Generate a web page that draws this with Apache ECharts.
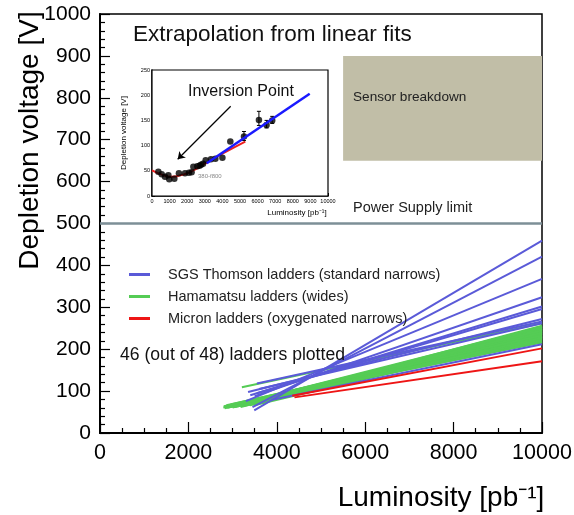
<!DOCTYPE html>
<html>
<head>
<meta charset="utf-8">
<script src="https://cdn.jsdelivr.net/npm/echarts@6/dist/echarts.min.js"></script>
<style>
html,body{margin:0;padding:0;background:#fff;}
#chart{width:574px;height:515px;}
</style>
</head>
<body>
<div id="chart"></div>
<script>
// ---------- Main plot data ----------
const blueName = 'SGS Thomson ladders (standard narrows)';
const greenName = 'Hamamatsu ladders (wides)';
const redName = 'Micron ladders (oxygenated narrows)';
const fitEndL = 10000;

const blueStartL = [3490, 3450, 3300, 3500, 3400, 3550, 3350, 3550, 3600, 3870];
const blueStartV = [54, 62, 76, 88, 90, 95, 98, 118, 105, 79];
const blueEndV   = [459, 421, 368, 324, 302, 296, 272, 266, 262, 212];

const greenStartL = [2790, 2820, 2850, 2880, 2910, 2940, 2970, 3000, 3030, 3060,
                     3090, 3120, 3150, 3180, 3210, 3240, 3270, 3300, 3330, 3360,
                     3390, 3420, 3450, 3480, 3510, 3540, 2800, 2860, 2960, 3050,
                     3160, 3260, 3380, 3210];
const greenStartV = [61, 59, 63, 60, 64, 62, 66, 61, 65, 63,
                     67, 64, 68, 62, 66, 70, 65, 69, 67, 71,
                     66, 70, 68, 72, 67, 70, 64, 66, 68, 62,
                     70, 72, 74, 109];
const greenEndV   = [218, 225, 221, 232, 228, 240, 236, 244, 230, 248,
                     238, 252, 234, 242, 226, 250, 246, 223, 254, 237,
                     231, 247, 241, 256, 229, 243, 216, 233, 239, 227,
                     249, 253, 245, 262];

const redStartL = [4350, 4400];
const redStartV = [89, 85];
const redEndV   = [202, 171];

const psLimitV = 500;
const breakdownL = [5500, 10000];
const breakdownV = [650, 900];

// ---------- Inset data ----------
const insetL = [360, 550, 740, 930, 980, 1270, 1530, 1875, 2100, 2250, 2350, 2575, 2700, 2785, 2900, 3050, 3350, 3600, 4000, 4450, 5226, 6075, 6509, 6830];
const insetV = [48, 43, 38, 41, 33, 34, 45, 45, 46, 47, 58, 59, 60, 62, 64, 71, 73, 74, 76, 108, 118, 151, 141, 150];
const errL  = [5226, 6075, 6509, 6830];
const errLo = [110, 140, 135, 144];
const errHi = [128, 168, 150, 158];
const redFitL = [0, 600, 1100, 1600, 2200, 3000, 4000, 5300];
const redFitV = [51, 42, 38, 41, 48, 64, 84, 108];
const blueFitL = [3110, 8960];
const blueFitV = [65, 203];
const arrowFrom = [4470, 178];
const arrowTo = [1460, 73];

const FONT = "'Liberation Sans', Arial, Helvetica, sans-serif";
const BLUE = '#5a5ad8';
const GREEN = '#55cc55';
const RED = '#ee1515';
const plain = v => String(v);

const series = [];
// reference line + breakdown box
series.push({
  type: 'line', xAxisIndex: 0, yAxisIndex: 0, silent: true,
  data: [[0, psLimitV], [fitEndL, psLimitV]],
  symbol: 'none', lineStyle: {color: '#7d8f97', width: 2.5}, z: 1,
  markArea: {
    silent: true,
    itemStyle: {color: '#c1bea7'},
    data: [[{coord: [breakdownL[0], breakdownV[1]]}, {coord: [breakdownL[1], breakdownV[0]]}]]
  }
});
greenStartL.forEach((l, i) => series.push({
  name: greenName, type: 'line', xAxisIndex: 0, yAxisIndex: 0,
  data: [[l, greenStartV[i]], [fitEndL, greenEndV[i]]],
  symbol: 'none', lineStyle: {color: GREEN, width: 2}, itemStyle: {color: GREEN}, z: 2
}));
blueStartL.forEach((l, i) => series.push({
  name: blueName, type: 'line', xAxisIndex: 0, yAxisIndex: 0,
  data: [[l, blueStartV[i]], [fitEndL, blueEndV[i]]],
  symbol: 'none', lineStyle: {color: BLUE, width: 2}, itemStyle: {color: BLUE}, z: 3
}));
redStartL.forEach((l, i) => series.push({
  name: redName, type: 'line', xAxisIndex: 0, yAxisIndex: 0,
  data: [[l, redStartV[i]], [fitEndL, redEndV[i]]],
  symbol: 'none', lineStyle: {color: RED, width: 2}, itemStyle: {color: RED}, z: 4
}));

// inset series
series.push({
  type: 'line', xAxisIndex: 1, yAxisIndex: 1, silent: true,
  data: redFitL.map((l, i) => [l, redFitV[i]]), smooth: true,
  symbol: 'none', lineStyle: {color: '#ee2020', width: 2}, z: 5,
  markLine: {
    silent: true, symbol: ['none', 'arrow'], symbolSize: 7,
    lineStyle: {color: '#000', width: 1.2, type: 'solid'}, label: {show: false},
    data: [[{coord: arrowFrom}, {coord: arrowTo}]]
  }
});
series.push({
  type: 'custom', xAxisIndex: 1, yAxisIndex: 1, silent: true, z: 6,
  data: errL.map((l, i) => [l, errLo[i], errHi[i]]),
  renderItem: function (params, api) {
    const lo = api.coord([api.value(0), api.value(1)]);
    const hi = api.coord([api.value(0), api.value(2)]);
    return {type: 'group', children: [
      {type: 'line', shape: {x1: lo[0], y1: lo[1], x2: hi[0], y2: hi[1]}, style: {stroke: '#000', lineWidth: 1}},
      {type: 'line', shape: {x1: hi[0] - 2, y1: hi[1], x2: hi[0] + 2, y2: hi[1]}, style: {stroke: '#000', lineWidth: 1}},
      {type: 'line', shape: {x1: lo[0] - 2, y1: lo[1], x2: lo[0] + 2, y2: lo[1]}, style: {stroke: '#000', lineWidth: 1}}
    ]};
  }
});
series.push({
  type: 'scatter', xAxisIndex: 1, yAxisIndex: 1, silent: true,
  data: insetL.map((l, i) => [l, insetV[i]]),
  symbol: 'circle', symbolSize: 6.5, itemStyle: {color: '#000'}, z: 7
});
series.push({
  type: 'line', xAxisIndex: 1, yAxisIndex: 1, silent: true,
  data: blueFitL.map((l, i) => [l, blueFitV[i]]),
  symbol: 'none', lineStyle: {color: '#1a1aff', width: 2.5}, z: 8
});

const option = {
  animation: false,
  backgroundColor: '#fff',
  textStyle: {fontFamily: FONT},
  legend: {
    orient: 'vertical', left: 124, top: 262,
    data: [blueName, greenName, redName],
    icon: 'rect', itemWidth: 21, itemHeight: 3, itemGap: 7,
    selectedMode: false,
    textStyle: {fontFamily: FONT, fontSize: 14.5, color: '#222', padding: [0, 0, 0, 13]}
  },
  grid: [
    {left: 100, right: 32, top: 14, bottom: 82, show: true, borderColor: '#000', borderWidth: 1.5, backgroundColor: 'transparent', containLabel: false, outerBoundsMode: 'none'},
    {left: 152, top: 70, width: 176, height: 126, show: true, borderColor: '#000', borderWidth: 1.2, backgroundColor: '#fff', z: 1, containLabel: false, outerBoundsMode: 'none'}
  ],
  xAxis: [
    {
      gridIndex: 0, type: 'value', min: 0, max: 10000, interval: 2000,
      name: 'Luminosity [pb⁻¹]', nameLocation: 'middle', nameGap: 51, nameMoveOverlap: false,
      nameTextStyle: {fontFamily: FONT, fontSize: 28, color: '#000', padding: [0, 0, 0, 240]},
      axisLine: {show: true, onZero: false, lineStyle: {color: '#000', width: 2}},
      axisTick: {show: true, inside: true, length: 11, lineStyle: {color: '#000', width: 1.2}},
      minorTick: {show: true, splitNumber: 4, length: 5, lineStyle: {color: '#000', width: 1.2}},
      axisLabel: {fontFamily: FONT, fontSize: 21.5, color: '#000', margin: 9, formatter: plain, showMaxLabel: true, showMinLabel: true},
      splitLine: {show: false}
    },
    {
      gridIndex: 1, type: 'value', min: 0, max: 10000, interval: 1000,
      name: 'Luminosity [pb⁻¹]', nameLocation: 'middle', nameGap: 13, nameMoveOverlap: false,
      nameTextStyle: {fontFamily: FONT, fontSize: 8, color: '#000', padding: [0, 0, 0, 114]},
      axisLine: {show: true, onZero: false, lineStyle: {color: '#000', width: 1.5}},
      axisTick: {show: true, inside: true, length: 3, lineStyle: {color: '#000', width: 1}},
      minorTick: {show: true, splitNumber: 5, length: 1.5, lineStyle: {color: '#000', width: 1}},
      axisLabel: {fontFamily: FONT, fontSize: 5.5, color: '#000', margin: 2, formatter: plain, showMaxLabel: true, showMinLabel: true},
      splitLine: {show: false}
    }
  ],
  yAxis: [
    {
      gridIndex: 0, type: 'value', min: 0, max: 1000, interval: 100,
      name: 'Depletion voltage [V]', nameLocation: 'middle', nameGap: 56, nameMoveOverlap: false,
      nameTextStyle: {fontFamily: FONT, fontSize: 28, color: '#000', padding: [0, 0, 0, 166]},
      axisLine: {show: true, onZero: false, lineStyle: {color: '#000', width: 2}},
      axisTick: {show: true, inside: true, length: 10, lineStyle: {color: '#000', width: 1.2}},
      minorTick: {show: true, splitNumber: 5, length: 5, lineStyle: {color: '#000', width: 1.2}},
      axisLabel: {fontFamily: FONT, fontSize: 21, color: '#000', margin: 9, formatter: plain, showMaxLabel: true, showMinLabel: true},
      splitLine: {show: false}
    },
    {
      gridIndex: 1, type: 'value', min: 0, max: 250, interval: 50,
      name: 'Depletion voltage [V]', nameLocation: 'middle', nameGap: 24, nameMoveOverlap: false,
      nameTextStyle: {fontFamily: FONT, fontSize: 8, color: '#000'},
      axisLine: {show: true, onZero: false, lineStyle: {color: '#000', width: 1.5}},
      axisTick: {show: true, inside: true, length: 3, lineStyle: {color: '#000', width: 1}},
      minorTick: {show: true, splitNumber: 5, length: 1.5, lineStyle: {color: '#000', width: 1}},
      axisLabel: {fontFamily: FONT, fontSize: 5.5, color: '#000', margin: 2, formatter: plain, showMaxLabel: true, showMinLabel: true},
      splitLine: {show: false}
    }
  ],
  graphic: [
    {type: 'text', x: 133, y: 35, z: 100, style: {text: 'Extrapolation from linear fits', font: '22.5px ' + FONT, fill: '#111', align: 'left', verticalAlign: 'middle'}},
    {type: 'text', x: 353, y: 97, z: 100, style: {text: 'Sensor breakdown', font: '13.6px ' + FONT, fill: '#222', align: 'left', verticalAlign: 'middle'}},
    {type: 'text', x: 353, y: 208, z: 100, style: {text: 'Power Supply limit', font: '14.5px ' + FONT, fill: '#222', align: 'left', verticalAlign: 'middle'}},
    {type: 'text', x: 120, y: 355, z: 100, style: {text: '46 (out of 48) ladders plotted', font: '17.6px ' + FONT, fill: '#111', align: 'left', verticalAlign: 'middle'}},
    {type: 'text', x: 188, y: 92, z: 100, style: {text: 'Inversion Point', font: '16px ' + FONT, fill: '#111', align: 'left', verticalAlign: 'middle'}},
    {type: 'text', x: 198, y: 176, z: 100, style: {text: '380-f800', font: '6px ' + FONT, fill: '#888', align: 'left', verticalAlign: 'middle'}}
  ],
  series: series
};

const chart = echarts.init(document.getElementById('chart'), null, {renderer: 'canvas'});
chart.setOption(option);
</script>
</body>
</html>
